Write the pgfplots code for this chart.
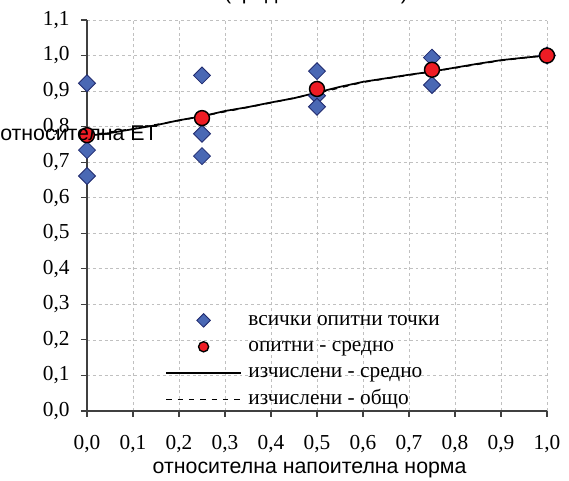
\documentclass[border=0pt]{standalone}
\usepackage{fontspec}
\setmainfont{Liberation Serif}
\newfontfamily\arial{Liberation Sans}
\usepackage{pgfplots}
\pgfplotsset{compat=1.18}

\definecolor{dblue}{RGB}{74,104,180}
\definecolor{dnavy}{RGB}{32,42,110}
\definecolor{mred}{RGB}{238,28,36}
\definecolor{gridgray}{RGB}{192,192,192}

% all measured points
\pgfplotstableread{
x    y
0.00 0.922
0.00 0.734
0.00 0.661
0.25 0.944
0.25 0.780
0.25 0.717
0.50 0.956
0.50 0.887
0.50 0.856
0.75 0.994
0.75 0.917
1.00 1.000
}\allpts

% measured mean
\pgfplotstableread{
x    y
0.00 0.776
0.25 0.824
0.50 0.906
0.75 0.960
1.00 1.000
}\meanpts

% calculated - mean
\pgfplotstableread{
x    y
0.00 0.774
0.05 0.782
0.10 0.793
0.15 0.804
0.20 0.818
0.25 0.829
0.30 0.844
0.35 0.855
0.40 0.868
0.45 0.880
0.50 0.896
0.55 0.912
0.60 0.926
0.65 0.936
0.70 0.946
0.75 0.955
0.80 0.966
0.85 0.977
0.90 0.987
0.95 0.994
1.00 1.000
}\calcmean

% calculated - overall
\pgfplotstableread{
x    y
0.00 0.775
0.10 0.794
0.20 0.817
0.30 0.842
0.40 0.867
0.50 0.894
0.60 0.925
0.70 0.945
0.80 0.965
0.90 0.986
1.00 1.001
}\calcall

\begin{document}
\begin{tikzpicture}
\useasboundingbox (-65.25pt,-52.5pt) rectangle (361.5pt,308.25pt);
\begin{axis}[
  at={(0,0)}, anchor=south west,
  scale only axis,
  width=345pt, height=293.25pt,
  xmin=0, xmax=1, ymin=0, ymax=1.1,
  xtick={0,0.1,0.2,0.3,0.4,0.5,0.6,0.7,0.8,0.9,1.0},
  ytick={0,0.1,0.2,0.3,0.4,0.5,0.6,0.7,0.8,0.9,1.0,1.1},
  /pgf/number format/.cd, fixed, fixed zerofill, precision=1, use comma, assume math mode=true,
  /pgfplots/.cd,
  ticklabel style={font=\fontsize{16}{19}\selectfont},
  xticklabel style={yshift=-10pt},
  yticklabel style={xshift=-5pt},
  axis x line=bottom, axis y line=left,
  axis line style={-, draw=black!75, line width=0.8pt},
  tick align=outside,
  major tick length=4.5pt,
  tick style={draw=black!75, line width=0.8pt},
  xmajorgrids, ymajorgrids,
  grid style={draw=gridgray, dash pattern=on 2.2pt off 2.2pt, line width=0.6pt},
  clip=false,
  legend cell align=left,
  legend image code/.code={\draw[mark repeat=2,mark phase=2,#1] plot coordinates {(0pt,0pt)(28pt,0pt)(56pt,0pt)};},
  legend style={at={(rel axis cs:0.17,0.258)}, anchor=north west,
    draw=none, fill=none, inner sep=0pt,
    font=\fontsize{16}{19}\selectfont,
    row sep=4.8pt, column sep=5pt,
    nodes={inner sep=0pt, text height=11pt, text depth=4pt}},
]
  \addplot[only marks, mark=square*, mark size=4.5pt,
    mark options={rotate=45, fill=dblue, draw=dnavy, line width=0.6pt}, forget plot]
    table {\allpts};
  \addplot[only marks, mark=*, mark size=5.6pt,
    mark options={fill=mred, draw=black, line width=1.1pt}, forget plot]
    table {\meanpts};
  \addplot[black, line width=1.3pt, forget plot] table {\calcmean};
  \addplot[black, line width=1.1pt, dash pattern=on 4pt off 4.5pt, forget plot] table {\calcall};

  \addlegendimage{only marks, mark=square*, mark size=3.6pt,
    mark options={rotate=45, fill=dblue, draw=dnavy, line width=0.6pt}}
  \addlegendentry{всички опитни точки}
  \addlegendimage{only marks, mark=*, mark size=3.8pt,
    mark options={fill=mred, draw=black, line width=1pt}}
  \addlegendentry{опитни - средно}
  \addlegendimage{black, line width=1.2pt}
  \addlegendentry{изчислени - средно}
  \addlegendimage{black, line width=1.1pt, dash pattern=on 4pt off 4.5pt}
  \addlegendentry{изчислени - общо}
\end{axis}
\node[font=\arial\fontsize{16}{19}\selectfont, anchor=west, inner sep=0pt]
  at (-65.25pt,208.5pt) {относителна ЕТ};
\node[font=\arial\fontsize{16}{19}\selectfont, inner sep=0pt]
  at (167pt,-44.5pt) {относителна напоителна норма};
\node[font=\arial\fontsize{16}{19}\selectfont, anchor=base, inner sep=0pt]
  at (171.75pt,308.5pt) {(средно за всички)};
\end{tikzpicture}
\end{document}
